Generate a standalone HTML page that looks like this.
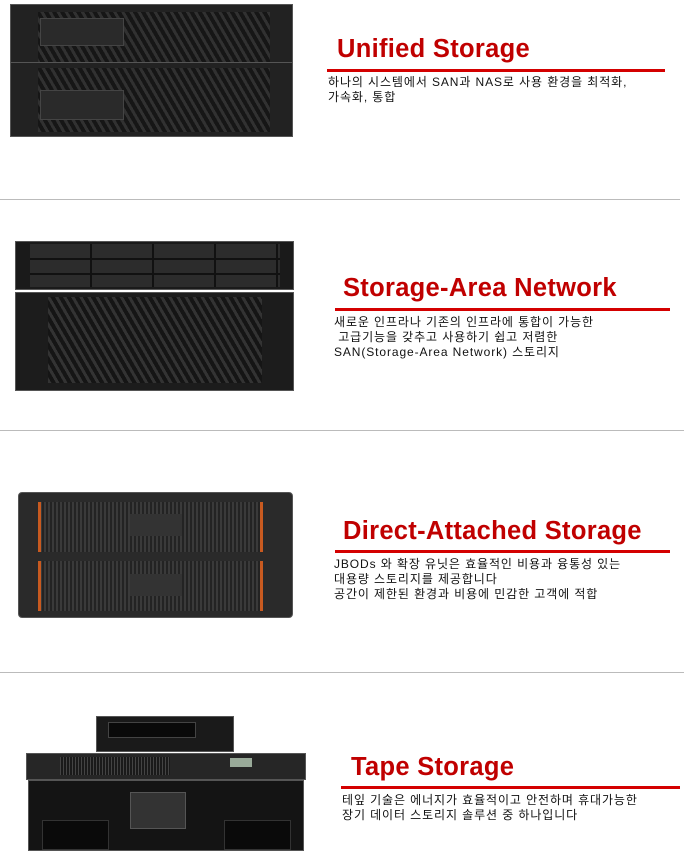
<!DOCTYPE html>
<html><head><meta charset="utf-8"><style>
body{margin:0;width:696px;height:855px;background:#fff;position:relative;overflow:hidden;font-family:"Liberation Sans","Noto Sans CJK KR",sans-serif}
.a{position:absolute}
.t{position:absolute;color:#c00000;font-weight:bold;font-size:25.5px;white-space:nowrap;letter-spacing:0.3px}
.r{position:absolute;height:3px;background:#d40000}
.p{position:absolute;font-size:12px;line-height:15px;color:#111;white-space:nowrap;letter-spacing:0.9px}
.s{position:absolute;left:0;height:1px;background:#bbb}
.dev{position:absolute;background:#1e1e1e;border:1px solid #555;box-sizing:border-box}
.mesh{position:absolute;background:repeating-linear-gradient(60deg,#333 0 3px,#151515 3px 7px),#151515}
</style></head><body>
<div class="dev" style="left:10px;top:4px;width:283px;height:66px;background:#222"></div>
<div class="mesh" style="left:38px;top:12px;width:232px;height:52px;opacity:.9"></div>
<div class="a" style="left:40px;top:18px;width:82px;height:26px;background:#2a2a2a;border:1px solid #444"></div>
<div class="dev" style="left:10px;top:62px;width:283px;height:75px;background:#222"></div>
<div class="mesh" style="left:38px;top:68px;width:232px;height:64px;opacity:.9"></div>
<div class="a" style="left:40px;top:90px;width:82px;height:28px;background:#2a2a2a;border:1px solid #444"></div>
<div class="t" style="left:337px;top:35px">Unified Storage</div>
<div class="r" style="left:327px;top:69px;width:338px"></div>
<div class="p" style="left:328px;top:75px">하나의 시스템에서 SAN과 NAS로 사용 환경을 최적화,<br>가속화, 통합</div>
<div class="s" style="top:199px;width:680px"></div>
<div class="dev" style="left:15px;top:241px;width:279px;height:49px;background:#1a1a1a"></div>
<div class="a" style="left:30px;top:244px;width:250px;height:43px;background:repeating-linear-gradient(90deg,#2c2c2c 0 60px,#111 60px 62px)"></div>
<div class="a" style="left:30px;top:258px;width:250px;height:2px;background:#111"></div>
<div class="a" style="left:30px;top:273px;width:250px;height:2px;background:#111"></div>
<div class="dev" style="left:15px;top:292px;width:279px;height:99px;background:#1c1c1c"></div>
<div class="mesh" style="left:48px;top:297px;width:214px;height:86px"></div>
<div class="t" style="left:343px;top:274px">Storage-Area Network</div>
<div class="r" style="left:335px;top:308px;width:335px"></div>
<div class="p" style="left:334px;top:315px">새로운 인프라나 기존의 인프라에 통합이 가능한<br>&nbsp;고급기능을 갖추고 사용하기 쉽고 저렴한<br>SAN(Storage-Area Network) 스토리지</div>
<div class="s" style="top:430px;width:684px"></div>
<div class="dev" style="left:18px;top:492px;width:275px;height:126px;background:#2a2a2a;border-radius:4px"></div>
<div class="a" style="left:40px;top:502px;width:222px;height:50px;background:repeating-linear-gradient(90deg,#3a3a3a 0 2px,#232323 2px 4px)"></div>
<div class="a" style="left:40px;top:561px;width:222px;height:50px;background:repeating-linear-gradient(90deg,#3a3a3a 0 2px,#232323 2px 4px)"></div>
<div class="a" style="left:38px;top:502px;width:3px;height:50px;background:#c85a20"></div>
<div class="a" style="left:260px;top:502px;width:3px;height:50px;background:#c85a20"></div>
<div class="a" style="left:38px;top:561px;width:3px;height:50px;background:#c85a20"></div>
<div class="a" style="left:260px;top:561px;width:3px;height:50px;background:#c85a20"></div>
<div class="a" style="left:130px;top:514px;width:52px;height:22px;background:#333"></div>
<div class="a" style="left:130px;top:574px;width:52px;height:22px;background:#333"></div>
<div class="t" style="left:343px;top:517px">Direct-Attached Storage</div>
<div class="r" style="left:335px;top:550px;width:335px"></div>
<div class="p" style="left:334px;top:557px">JBODs 와 확장 유닛은 효율적인 비용과 융통성 있는<br>대용량 스토리지를 제공합니다<br>공간이 제한된 환경과 비용에 민감한 고객에 적합</div>
<div class="s" style="top:672px;width:684px"></div>
<div class="dev" style="left:96px;top:716px;width:138px;height:36px;background:#1a1a1a"></div>
<div class="a" style="left:108px;top:722px;width:86px;height:14px;background:#0a0a0a;border:1px solid #444"></div>
<div class="dev" style="left:26px;top:753px;width:280px;height:27px;background:#262626"></div>
<div class="a" style="left:60px;top:757px;width:110px;height:18px;background:repeating-linear-gradient(90deg,#444 0 1px,#1a1a1a 1px 3px)"></div>
<div class="a" style="left:230px;top:758px;width:22px;height:9px;background:#9a9"></div>
<div class="dev" style="left:28px;top:780px;width:276px;height:71px;background:#141414"></div>
<div class="a" style="left:130px;top:792px;width:54px;height:35px;background:#333;border:1px solid #555"></div>
<div class="a" style="left:42px;top:820px;width:65px;height:28px;background:#0a0a0a;border:1px solid #333"></div>
<div class="a" style="left:224px;top:820px;width:65px;height:28px;background:#0a0a0a;border:1px solid #333"></div>
<div class="t" style="left:351px;top:753px">Tape Storage</div>
<div class="r" style="left:341px;top:786px;width:339px"></div>
<div class="p" style="left:342px;top:793px">테잎 기술은 에너지가 효율적이고 안전하며 휴대가능한<br>장기 데이터 스토리지 솔루션 중 하나입니다</div>
</body></html>
